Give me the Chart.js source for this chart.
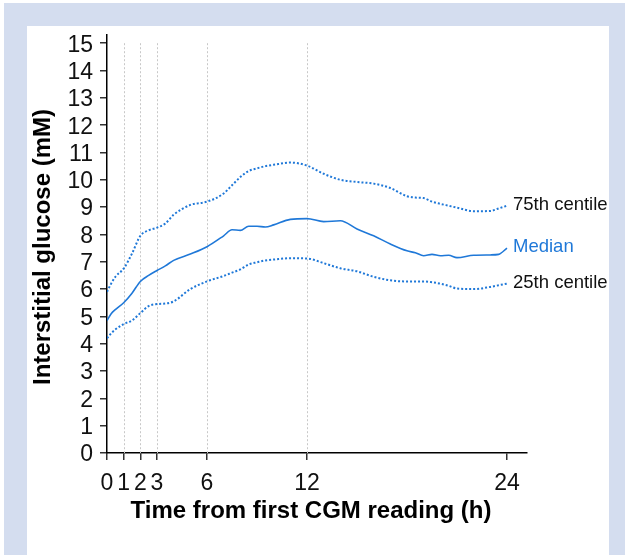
<!DOCTYPE html>
<html>
<head>
<meta charset="utf-8">
<script src="https://cdn.jsdelivr.net/npm/chart.js@4.4.0/dist/chart.umd.min.js"></script>
<style>
body { margin: 0; background: #fff; }
#frame { position: absolute; left: 4px; top: 3px; width: 621px; height: 552px; background: #d4ddef; }
#panel { position: absolute; left: 27px; top: 26px; width: 582px; height: 529px; background: #fff; }
#chart-1 { position: absolute; left: 0; top: 0; }
</style>
</head>
<body>
<div id="frame"></div>
<div id="panel"></div>
<canvas id="chart-1" width="625" height="555"></canvas>
<script>
// hours from first CGM reading
var times = [0, 0.25, 0.5, 1, 1.5, 2, 2.5, 3, 3.5, 4, 5, 6, 7, 7.5, 8, 8.5, 9, 9.5, 10, 11, 12,
             13, 14, 15, 16, 17, 18, 18.5, 19, 19.5, 20, 20.5, 21, 22, 23, 23.5, 24];

// interstitial glucose (mM)
var median = [4.85, 5.1, 5.25, 5.5, 5.85, 6.28, 6.5, 6.68, 6.85, 7.05, 7.28, 7.55, 7.95, 8.17, 8.15, 8.3, 8.3, 8.27, 8.35, 8.55, 8.58,
              8.47, 8.5, 8.2, 7.95, 7.65, 7.4, 7.33, 7.22, 7.27, 7.22, 7.24, 7.15, 7.24, 7.25, 7.27, 7.5];
var p75 = [5.9, 6.2, 6.45, 6.75, 7.3, 7.95, 8.15, 8.25, 8.4, 8.72, 9.08, 9.2, 9.5, 9.8, 10.1, 10.32, 10.42, 10.5, 10.55, 10.63, 10.52,
           10.22, 10.0, 9.92, 9.86, 9.7, 9.4, 9.35, 9.33, 9.2, 9.12, 9.05, 8.98, 8.85, 8.86, 8.95, 9.05];
var p25 = [4.2, 4.38, 4.52, 4.72, 4.85, 5.12, 5.38, 5.45, 5.47, 5.55, 6.0, 6.28, 6.48, 6.6, 6.72, 6.9, 6.98, 7.05, 7.08, 7.13, 7.12,
           6.95, 6.76, 6.65, 6.45, 6.32, 6.28, 6.28, 6.28, 6.25, 6.2, 6.12, 6.02, 6.0, 6.08, 6.14, 6.2];

var seriesNames = ['75th centile', 'Median', '25th centile'];
var xTicks = [0, 1, 2, 3, 6, 12, 24];
var gridTimes = [1, 2, 3, 6, 12];
var xTitle = 'Time from first CGM reading (h)';
var yTitle = 'Interstitial glucose (mM)';

var blue = '#1f78d8';
var font = '"Liberation Sans", Arial, sans-serif';

function pts(vals) {
    return times.map(function (t, i) { return { x: t, y: vals[i] }; });
}

var extras = {
    id: 'extras',
    beforeDatasetsDraw: function (chart) {
        var ctx = chart.ctx, xs = chart.scales.x, ys = chart.scales.y;
        ctx.save();
        ctx.strokeStyle = '#c8c8c8';
        ctx.lineWidth = 1;
        ctx.setLineDash([2, 2]);
        gridTimes.forEach(function (t) {
            var x = Math.round(xs.getPixelForValue(t)) + 0.5;
            ctx.beginPath();
            ctx.moveTo(x, ys.getPixelForValue(15));
            ctx.lineTo(x, ys.bottom);
            ctx.stroke();
        });
        ctx.restore();
    },
    afterDraw: function (chart) {
        var ctx = chart.ctx, xs = chart.scales.x, ys = chart.scales.y;
        ctx.save();
        // labels at the end of each line
        ctx.font = '18.5px ' + font;
        ctx.textAlign = 'left';
        ctx.textBaseline = 'middle';
        chart.data.datasets.forEach(function (ds, i) {
            var meta = chart.getDatasetMeta(i);
            var p = meta.data[meta.data.length - 1];
            ctx.fillStyle = i == 1 ? blue : '#111';
            ctx.fillText(ds.label, p.x + 6, p.y - 1);
        });
        // axis titles
        ctx.fillStyle = '#000';
        ctx.font = 'bold 24px ' + font;
        ctx.textAlign = 'center';
        ctx.textBaseline = 'alphabetic';
        ctx.fillText(xTitle, (xs.getPixelForValue(0) + xs.getPixelForValue(24)) / 2 + 4, ys.bottom + 65);
        ctx.translate(50, (ys.top + ys.bottom) / 2 + 3);
        ctx.rotate(-Math.PI / 2);
        ctx.fillText(yTitle, 0, 0);
        ctx.restore();
    }
};

var chartConfig = {
    type: 'line',
    data: {
        datasets: [{
            label: seriesNames[0],
            data: pts(p75),
            borderColor: blue,
            borderWidth: 2,
            borderDash: [2, 2],
            pointRadius: 0,
            cubicInterpolationMode: 'monotone'
        }, {
            label: seriesNames[1],
            data: pts(median),
            borderColor: blue,
            borderWidth: 1.6,
            pointRadius: 0,
            cubicInterpolationMode: 'monotone'
        }, {
            label: seriesNames[2],
            data: pts(p25),
            borderColor: blue,
            borderWidth: 2,
            borderDash: [2, 2],
            pointRadius: 0,
            cubicInterpolationMode: 'monotone'
        }]
    },
    options: {
        responsive: false,
        animation: false,
        devicePixelRatio: 1,
        layout: { padding: { left: 0, top: 35, right: 98, bottom: 0 } },
        plugins: { legend: { display: false }, tooltip: { enabled: false } },
        scales: {
            x: {
                type: 'linear',
                min: 0,
                max: 25.2,
                afterFit: function (scale) { scale.height = 102; },
                afterBuildTicks: function (scale) {
                    scale.ticks = xTicks.map(function (v) { return { value: v }; });
                },
                ticks: {
                    autoSkip: false,
                    maxRotation: 0,
                    padding: 10,
                    color: '#111',
                    font: { family: font, size: 23 }
                },
                grid: { drawOnChartArea: false, drawTicks: true, tickLength: 7, color: '#333', lineWidth: 1.5 },
                border: { display: true, color: '#000', width: 1.5 }
            },
            y: {
                min: 0,
                max: 15.3,
                afterFit: function (scale) { scale.width = 107; },
                ticks: {
                    stepSize: 1,
                    autoSkip: false,
                    includeBounds: false,
                    padding: 7,
                    labelOffset: 2,
                    color: '#111',
                    font: { family: font, size: 23 }
                },
                grid: { drawOnChartArea: false, drawTicks: true, tickLength: 7, color: '#333', lineWidth: 1.5 },
                border: { display: true, color: '#000', width: 1.5 }
            }
        }
    },
    plugins: [extras]
};

var glucoseChart = new Chart(document.getElementById('chart-1'), chartConfig);
</script>
</body>
</html>
